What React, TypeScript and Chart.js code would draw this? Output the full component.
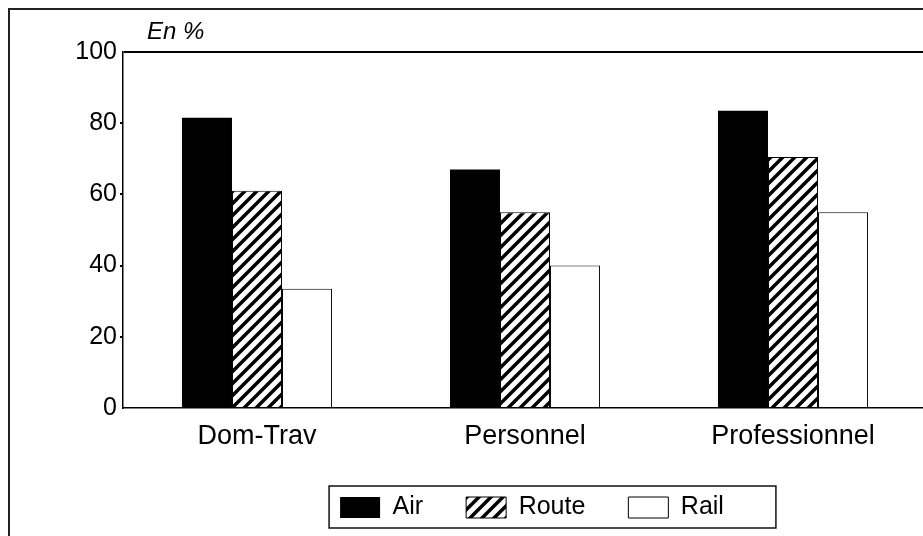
import React, { useEffect, useRef } from 'react';
import { Chart, registerables } from 'chart.js';

Chart.register(...registerables);

const categories = ['Dom-Trav', 'Personnel', 'Professionnel'];
const seriesNames = ['Air', 'Route', 'Rail'];
const airValues = [81.5, 67, 83.5];
const routeValues = [61, 55, 70.5];
const railValues = [33.5, 40, 55];
const yTicks = [0, 20, 40, 60, 80, 100];
const unitLabel = 'En %';

const FONT = '"Liberation Sans", Arial, sans-serif';

function makeHatch(): CanvasPattern | string {
  const c = document.createElement('canvas');
  const s = 12;
  c.width = s;
  c.height = s;
  const g = c.getContext('2d');
  if (!g) return '#888';
  g.fillStyle = '#fff';
  g.fillRect(0, 0, s, s);
  g.strokeStyle = '#000';
  g.lineWidth = 3.5;
  g.beginPath();
  g.moveTo(-2, s + 2);
  g.lineTo(s + 2, -2);
  g.moveTo(-s / 2 - 2, s / 2 + 2);
  g.lineTo(s / 2 + 2, -s / 2 - 2);
  g.moveTo(s / 2 - 2, s * 1.5 + 2);
  g.lineTo(s * 1.5 + 2, s / 2 - 2);
  g.stroke();
  return g.createPattern(c, 'repeat') || '#888';
}

export default function App() {
  const ref = useRef<HTMLCanvasElement | null>(null);

  useEffect(() => {
    if (!ref.current) return;
    const prevOverflow = document.documentElement.style.overflow;
    document.documentElement.style.overflow = 'hidden';
    Chart.defaults.font.family = FONT;
    Chart.defaults.color = '#000';
    const hatch = makeHatch();

    const decor = {
      id: 'decor',
      afterLayout(chart: any) {
        const lg = chart.legend;
        if (lg) {
          lg.left += 7;
          lg.right += 7;
        }
      },
      beforeDraw(chart: any) {
        const ctx = chart.ctx;
        ctx.save();
        ctx.fillStyle = '#fff';
        ctx.fillRect(0, 0, chart.width, chart.height);
        ctx.strokeStyle = '#222';
        ctx.lineWidth = 2;
        ctx.beginPath();
        ctx.moveTo(1, chart.height);
        ctx.lineTo(1, 1);
        ctx.lineTo(chart.width, 1);
        ctx.stroke();
        ctx.restore();
      },
      afterDraw(chart: any) {
        const ctx = chart.ctx;
        const area = chart.chartArea;
        ctx.save();
        ctx.fillStyle = '#000';
        ctx.font = 'italic 24px ' + FONT;
        ctx.textBaseline = 'alphabetic';
        ctx.textAlign = 'left';
        ctx.fillText(unitLabel, area.left + 24, area.top - 13);
        const hb = chart.legend && chart.legend.legendHitBoxes;
        if (hb && hb.length) {
          const first = hb[0];
          const last = hb[hb.length - 1];
          const x1 = first.left - 11;
          const x2 = last.left + last.width + 52;
          const y1 = first.top + 2 - 11;
          const y2 = first.top + 2 + 21 + 10;
          ctx.strokeStyle = '#111';
          ctx.lineWidth = 1.5;
          ctx.strokeRect(x1, y1, x2 - x1, y2 - y1);
        }
        ctx.restore();
      },
    };

    const chart = new Chart(ref.current, {
      type: 'bar',
      data: {
        labels: categories,
        datasets: [
          {
            label: seriesNames[0],
            data: airValues,
            backgroundColor: '#000',
            borderColor: '#000',
            borderWidth: 0,
            barPercentage: 1,
            categoryPercentage: 0.56,
          },
          {
            label: seriesNames[1],
            data: routeValues,
            backgroundColor: hatch as any,
            borderColor: '#000',
            borderWidth: 1,
            barPercentage: 1,
            categoryPercentage: 0.56,
          },
          {
            label: seriesNames[2],
            data: railValues,
            backgroundColor: '#fff',
            borderColor: '#000',
            borderWidth: 1,
            barPercentage: 1,
            categoryPercentage: 0.56,
          },
        ],
      },
      options: {
        responsive: false,
        animation: false,
        devicePixelRatio: 1,
        layout: { padding: { top: 44, left: 0, right: 0, bottom: 6 } },
        scales: {
          x: {
            grid: { display: false },
            border: { display: true, color: '#000', width: 1.5 },
            ticks: { font: { size: 27 }, padding: 4, color: '#000' },
            afterFit(scale: any) {
              scale.height = 44;
            },
          },
          y: {
            min: 0,
            max: 100,
            afterBuildTicks(scale: any) {
              scale.ticks = yTicks.map((v) => ({ value: v }));
            },
            grid: {
              display: true,
              drawOnChartArea: true,
              drawTicks: true,
              tickLength: 3,
              lineWidth: 2,
              color: (c: any) => (c.tick && c.tick.value === 100 ? '#000' : 'rgba(0,0,0,0)'),
              tickColor: (c: any) =>
                c.tick && (c.tick.value === 100 || c.tick.value === 0) ? 'rgba(0,0,0,0)' : '#000',
            },
            border: { display: true, color: '#000', width: 1.5 },
            ticks: { font: { size: 25 }, padding: 3, color: '#000' },
            afterFit(scale: any) {
              scale.width = 115;
            },
          },
        },
        plugins: {
          legend: {
            position: 'bottom',
            fullSize: false,
            labels: {
              font: { size: 25 },
              color: '#000',
              boxWidth: 40,
              boxHeight: 21,
              padding: 43,
            },
          },
          tooltip: { enabled: false },
          title: { display: false },
        },
      },
      plugins: [decor],
    } as any);

    return () => {
      chart.destroy();
      document.documentElement.style.overflow = prevOverflow;
    };
  }, []);

  return (
    <div style={{ position: 'fixed', left: 8, top: 8, width: 915, height: 528, overflow: 'hidden' }}>
      <canvas ref={ref} width={919} height={528} style={{ display: 'block' }} />
    </div>
  );
}
